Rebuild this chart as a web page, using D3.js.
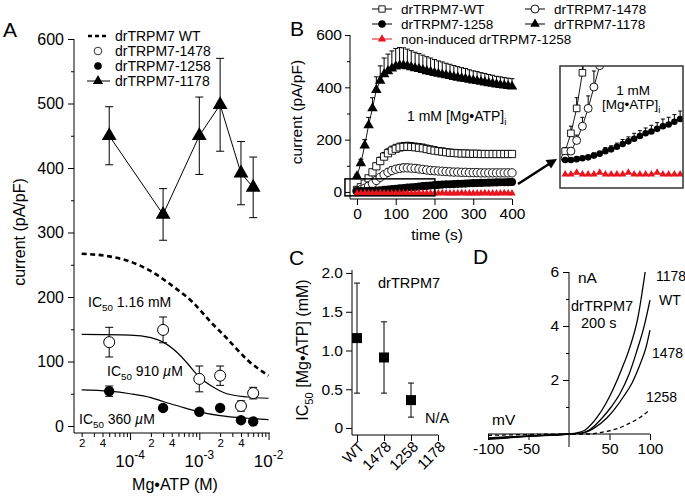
<!DOCTYPE html>
<html><head><meta charset="utf-8">
<script src="https://cdn.jsdelivr.net/npm/d3@7"></script>
<style>
body{margin:0;background:#fff;}
svg{display:block;font-family:"Liberation Sans",Arial,Helvetica,sans-serif;}
</style></head><body>
<svg id="c" width="685" height="497"></svg>
<script>
// ---------------- Panel A data ----------------
const concA = [5e-5, 3e-4, 1e-3, 2e-3, 4e-3, 6e-3];
const a1178 = [450, 328, 450, 498, 392, 370];
const a1178Err = [45, 40, 60, 72, 49, 47];
const a1478 = [130, 149, 73, 78, 31, 51];
const a1478Err = [23, 20, 20, 15, 8, 9];
const a1258 = [54, 28, 22, 28, 9, 7];
const a1258Err = [8, 0, 0, 0, 0, 0];
const fitWTConc = [2e-5, 5e-5, 1e-4, 2e-4, 4e-4, 8e-4, 1.5e-3, 2.5e-3, 5e-3, 1e-2];
const fitWTVal  = [267, 263, 255, 240, 218, 192, 160, 136, 102, 78];
const fit1478Conc = [2e-5, 1e-4, 2e-4, 3e-4, 5e-4, 7e-4, 1e-3, 1.5e-3, 2.5e-3, 5e-3, 1e-2];
const fit1478Val  = [142, 141, 137, 130, 112, 95, 76, 62, 50, 45, 43];
const fit1258Conc = [2e-5, 5e-5, 1e-4, 2e-4, 3e-4, 5e-4, 1e-3, 2e-3, 5e-3, 1e-2];
const fit1258Val  = [56, 54, 50, 44, 38, 31, 22, 16, 12, 10];
const yTicksA = [0, 100, 200, 300, 400, 500, 600];
const yMinorA = [50, 150, 250, 350, 450, 550];
const xMajorA = [1e-4, 1e-3, 1e-2];
const xMinorA = [2e-5,3e-5,4e-5,5e-5,6e-5,7e-5,8e-5,9e-5,2e-4,3e-4,4e-4,5e-4,6e-4,7e-4,8e-4,9e-4,2e-3,3e-3,4e-3,5e-3,6e-3,7e-3,8e-3,9e-3];
const legendA = ["drTRPM7 WT", "drTRPM7-1478", "drTRPM7-1258", "drTRPM7-1178"];

// ---------------- Panel B data ----------------
const timesB = [0,10,20,30,40,50,60,70,80,90,100,110,120,130,140,150,160,170,180,190,200,210,220,230,240,250,260,270,280,290,300,310,320,330,340,350,360,370,380,390,400];
const bWT = [8,18,32,52,75,98,118,135,148,158,165,170,172,173,172,171,169,167,164,161,158,156,154,152,150,149,148,147,147,146,146,146,145,145,145,145,145,145,145,145,145];
const bWTErr = [2,4,6,9,11,13,15,16,17,17,17,17,17,17,17,16,16,16,15,15,15,14,14,13,13,12,12,12,11,11,11,10,10,10,10,9,9,9,9,9,9];
const b1478 = [4,8,14,22,32,44,56,66,75,82,87,90,92,92,91,90,88,86,84,82,81,80,79,78,77,76,76,75,75,74,74,74,73,73,73,73,73,73,73,73,73];
const b1478Err = [1,2,3,5,7,9,11,12,13,14,14,14,14,14,13,13,12,12,12,11,11,11,10,10,10,10,9,9,9,9,9,9,9,8,8,8,8,8,8,8,8];
const b1178 = [60,110,178,255,320,390,425,450,462,472,480,484,484,481,477,473,470,466,462,459,455,452,449,446,443,440,437,434,432,429,426,424,421,419,416,414,411,409,407,405,403];
const b1178Err = [8,15,22,30,40,50,57,62,65,67,68,68,67,65,63,61,59,57,55,53,51,49,48,46,45,43,42,41,40,38,37,36,35,34,33,32,31,31,30,30,30];
const b1258 = [3,3,3.5,4,4.5,5.5,6.5,8,9,10.5,12,13.5,15,16.5,18,19,20.5,22,23,24.5,26,27,28,29,29.5,30,31,31.5,32,33,33.5,34,34.5,35,35.5,36,36.5,37,37,37.5,38];
const b1258Err = [1,1,1,1,1,1.5,1.5,2,2,2,2.5,2.5,3,3,3,3.5,3.5,4,4,4,4.5,4.5,4.5,5,5,5,5,5,5.5,5.5,5.5,5.5,5.5,6,6,6,6,6,6,6,6];
const bNonInd = [-5,-5,-4,-5,-5,-5,-4,-5,-5,-5,-5,-4,-5,-5,-5,-5,-4,-5,-5,-5,-5,-5,-4,-5,-5,-5,-5,-4,-5,-5,-5,-5,-5,-4,-5,-5,-5,-5,-4,-5,-5];
const yTicksB = [0, 200, 400, 600];
const yMinorB = [100, 300, 500];
const xTicksB = [0, 100, 200, 300, 400];
const insetT = [-31, 201];
const insetV = [-15, 50];

// ---------------- Panel C data ----------------
const catsC = ["WT", "1478", "1258", "1178"];
const ic50 = [1.16, 0.91, 0.36, null];
const ic50Err = [0.71, 0.46, 0.22, null];
const yTicksC = [0, 0.5, 1.0, 1.5, 2.0];

// ---------------- Panel D data ----------------
const ivWT = [[-100,-0.17],[-50,-0.08],[0,0],[14,0.03],[25,0.15],[42,0.63],[52,1.0],[63,1.5],[74,2.2],[84,3.1],[92,3.9],[100,4.96]];
const iv1178 = [[-100,-0.2],[-50,-0.09],[0,0],[10,0.04],[20,0.15],[35,0.63],[45,1.1],[54,1.63],[65,2.4],[75,3.2],[85,4.3],[94,6.0]];
const iv1478 = [[-100,-0.14],[-50,-0.07],[0,0],[17,0.04],[30,0.2],[47,0.6],[57,0.95],[67,1.37],[78,1.9],[88,2.6],[95,3.2],[100,3.85]];
const iv1258 = [[-100,-0.05],[-50,-0.02],[0,0],[26,0.0],[40,0.06],[54,0.15],[65,0.26],[75,0.4],[88,0.62],[98,0.85]];
const xTicksD = [-100, -50, 50, 100];
const yTicksD = [2, 4, 6];
const yMinorD = [1, 3, 5];

// ---------------- helpers ----------------
const svg = d3.select("#c");
svg.append("rect").attr("width", 685).attr("height", 497).attr("fill", "#fff");
const FONT = '"Liberation Sans", Arial, Helvetica, sans-serif';
const plainFmt = d => String(d);

function label(g, x, y, parts, size, anchor, rotate) {
  const t = g.append("text").attr("x", x).attr("y", y).attr("font-size", size)
    .attr("text-anchor", anchor || "start").attr("fill", "#000");
  if (rotate != null) t.attr("transform", `rotate(${rotate},${x},${y})`);
  let shift = 0;
  parts.forEach(p => {
    if (typeof p === "string") p = {t: p};
    const sp = t.append("tspan").text(p.t);
    const target = p.sub ? size * 0.3 : p.sup ? -size * 0.45 : 0;
    if (target !== shift) { sp.attr("dy", target - shift); shift = target; }
    if (p.sub || p.sup) sp.attr("font-size", size * 0.7);
    if (p.it) sp.attr("font-style", "italic");
  });
  return t;
}
function styleAxis(g, size) {
  g.attr("font-family", FONT).attr("font-size", size);
  g.selectAll("line").attr("stroke", "#000").attr("stroke-width", 1);
  g.selectAll("text").attr("fill", "#000");
  g.select(".domain").remove();
}
function vline(g, x, y1, y2) { g.append("line").attr("x1", x).attr("x2", x).attr("y1", y1).attr("y2", y2).attr("stroke", "#000").attr("stroke-width", 1); }
function hline(g, y, x1, x2) { g.append("line").attr("x1", x1).attr("x2", x2).attr("y1", y).attr("y2", y).attr("stroke", "#000").attr("stroke-width", 1); }
function errBars(g, xs, ys, es, xf, yf, cap, up, down) {
  xs.forEach((xv, i) => {
    if (ys[i] == null || !es[i]) return;
    const x = xf(xv), y0 = yf(ys[i] - (down ? es[i] : 0)), y1 = yf(ys[i] + (up ? es[i] : 0));
    vline(g, x, y0, y1);
    if (up) hline(g, y1, x - cap / 2, x + cap / 2);
    if (down) hline(g, y0, x - cap / 2, x + cap / 2);
  });
}

// ================= Panel A =================
const gA = svg.append("g");
const xA = d3.scaleLog().domain([1.55e-5, 1.05e-2]).range([74, 270]);
const yA = d3.scaleLinear().domain([0, 600]).range([426, 39]);
const axAy = 433;
vline(gA, 74, yA(600), axAy);
hline(gA, axAy, 74, 270);
gA.append("g").attr("transform", "translate(74,0)")
  .call(d3.axisLeft(yA).tickValues(yTicksA).tickSize(6).tickPadding(4).tickFormat(plainFmt)).call(g => styleAxis(g, 16));
gA.append("g").attr("transform", "translate(74,0)")
  .call(d3.axisLeft(yA).tickValues(yMinorA).tickSize(3).tickFormat("")).call(g => styleAxis(g, 10));
gA.append("g").attr("transform", `translate(0,${axAy})`)
  .call(d3.axisBottom(xA).tickValues(xMajorA).tickSize(7).tickFormat("")).call(g => styleAxis(g, 10));
gA.append("g").attr("transform", `translate(0,${axAy})`)
  .call(d3.axisBottom(xA).tickValues(xMinorA).tickSize(4).tickPadding(2)
    .tickFormat(d => { const m = Math.round(d / Math.pow(10, Math.floor(Math.log10(d) + 1e-9))); return (m === 2 || m === 4) ? m : ""; }))
  .call(g => styleAxis(g, 11.5));
xMajorA.forEach(v => {
  label(gA, xA(v), 467, ["10", {t: "-" + Math.round(-Math.log10(v)), sup: true}], 17, "middle");
});
label(gA, 175, 490, ["Mg•ATP (M)"], 16, "middle");
label(gA, 25, 232, ["current (pA/pF)"], 16, "middle", -90);
label(gA, 3, 37, ["A"], 21);

const lineA = d3.line().x(d => xA(d[0])).y(d => yA(d[1])).curve(d3.curveMonotoneX);
gA.append("path").attr("d", lineA(fitWTConc.map((c, i) => [c, fitWTVal[i]])))
  .attr("fill", "none").attr("stroke", "#000").attr("stroke-width", 2.6).attr("stroke-dasharray", "5,3.5");
gA.append("path").attr("d", lineA(fit1478Conc.map((c, i) => [c, fit1478Val[i]])))
  .attr("fill", "none").attr("stroke", "#000").attr("stroke-width", 1.2);
gA.append("path").attr("d", lineA(fit1258Conc.map((c, i) => [c, fit1258Val[i]])))
  .attr("fill", "none").attr("stroke", "#000").attr("stroke-width", 1.2);
// 1178
errBars(gA, concA, a1178, a1178Err, xA, yA, 8, true, true);
gA.append("path").attr("d", d3.line().x((d, i) => xA(concA[i])).y(d => yA(d))(a1178))
  .attr("fill", "none").attr("stroke", "#000").attr("stroke-width", 1);
gA.selectAll(".t1178").data(a1178).join("path")
  .attr("d", d3.symbol(d3.symbolTriangle, 95)())
  .attr("transform", (d, i) => `translate(${xA(concA[i])},${yA(d)})`).attr("fill", "#000");
// 1478
errBars(gA, concA, a1478, a1478Err, xA, yA, 8, true, true);
gA.selectAll(".c1478").data(a1478).join("circle")
  .attr("cx", (d, i) => xA(concA[i])).attr("cy", d => yA(d)).attr("r", 5.5)
  .attr("fill", "#fff").attr("stroke", "#000").attr("stroke-width", 1);
// 1258
errBars(gA, concA, a1258, a1258Err, xA, yA, 8, true, true);
gA.selectAll(".c1258").data(a1258).join("circle")
  .attr("cx", (d, i) => xA(concA[i])).attr("cy", d => yA(d)).attr("r", 5.2).attr("fill", "#000");
// IC50 labels
label(gA, 88, 307, ["IC", {t: "50", sub: true}, " 1.16 mM"], 14);
label(gA, 107, 376, ["IC", {t: "50", sub: true}, " 910 ", {t: "µ", it: true}, "M"], 14);
label(gA, 79, 424, ["IC", {t: "50", sub: true}, " 360 ", {t: "µ", it: true}, "M"], 14);
// legend A
const legAy = [36, 51, 66, 81];
gA.append("line").attr("x1", 88).attr("x2", 108).attr("y1", legAy[0]).attr("y2", legAy[0])
  .attr("stroke", "#000").attr("stroke-width", 2.4).attr("stroke-dasharray", "4,3");
gA.append("circle").attr("cx", 98).attr("cy", legAy[1]).attr("r", 3.8).attr("fill", "#fff").attr("stroke", "#000").attr("stroke-width", 0.8);
gA.append("circle").attr("cx", 98).attr("cy", legAy[2]).attr("r", 3.8).attr("fill", "#000");
hline(gA, legAy[3], 87, 110);
gA.append("path").attr("d", d3.symbol(d3.symbolTriangle, 45)()).attr("transform", `translate(98,${legAy[3]})`);
legendA.forEach((s, i) => label(gA, 115, legAy[i] + 5, [s], 14));

// ================= Panel B =================
const gB = svg.append("g");
const xB = d3.scaleLinear().domain([-18, 400]).range([350, 512]);
const yB = d3.scaleLinear().domain([-27, 600]).range([199, 35]);
vline(gB, 350, yB(600), 199);
hline(gB, 199, 350, 512);
gB.append("g").attr("transform", "translate(350,0)")
  .call(d3.axisLeft(yB).tickValues(yTicksB).tickSize(5).tickPadding(3).tickFormat(plainFmt)).call(g => styleAxis(g, 15.5));
gB.append("g").attr("transform", "translate(350,0)")
  .call(d3.axisLeft(yB).tickValues(yMinorB).tickSize(3).tickFormat("")).call(g => styleAxis(g, 10));
gB.append("g").attr("transform", "translate(0,199)")
  .call(d3.axisBottom(xB).tickValues(xTicksB).tickSize(6).tickPadding(3).tickFormat(plainFmt)).call(g => styleAxis(g, 15.5));
label(gB, 437, 240, ["time (s)"], 15.5, "middle");
label(gB, 302, 112, ["current (pA/pF)"], 15.5, "middle", -90);
label(gB, 290, 36, ["B"], 21);
label(gB, 407, 121, ["1 mM [Mg•ATP]", {t: "i", sub: true}], 14);

function drawSeries(g, xs, ys, es, xf, yf, opt) {
  if (es) errBars(g, xs, ys, es, xf, yf, opt.cap, true, false);
  g.append("path").attr("d", d3.line().x((d, i) => xf(xs[i])).y(d => yf(d))(ys))
    .attr("fill", "none").attr("stroke", opt.color || "#000").attr("stroke-width", opt.lw || 0.9);
  g.append("g").selectAll("path").data(ys).join("path")
    .attr("transform", (d, i) => `translate(${xf(xs[i])},${yf(d)})`)
    .attr("d", d3.symbol(opt.sym, opt.size)())
    .attr("fill", opt.fill).attr("stroke", opt.stroke || "none").attr("stroke-width", opt.sw || 0.9);
}
drawSeries(gB, timesB, bWT, bWTErr, xB, yB, {cap: 5, sym: d3.symbolSquare, size: 52, fill: "#fff", stroke: "#000"});
drawSeries(gB, timesB, b1478, b1478Err, xB, yB, {cap: 5, sym: d3.symbolCircle, size: 55, fill: "#fff", stroke: "#000"});
drawSeries(gB, timesB, b1178, b1178Err, xB, yB, {cap: 5, sym: d3.symbolTriangle, size: 48, fill: "#000"});
drawSeries(gB, timesB, b1258, b1258Err, xB, yB, {cap: 5, sym: d3.symbolCircle, size: 52, fill: "#000"});
drawSeries(gB, timesB, bNonInd, null, xB, yB, {sym: d3.symbolTriangle, size: 24, fill: "#e8141e", color: "#e8141e"});
// zoom rectangle
gB.append("rect").attr("x", xB(insetT[0])).attr("y", yB(insetV[1]))
  .attr("width", xB(insetT[1]) - xB(insetT[0])).attr("height", yB(insetV[0]) - yB(insetV[1]))
  .attr("fill", "none").attr("stroke", "#000").attr("stroke-width", 1.5);
// arrow
gB.append("line").attr("x1", 518).attr("y1", 184).attr("x2", 549).attr("y2", 164).attr("stroke", "#000").attr("stroke-width", 2.5);
gB.append("path").attr("d", "M557,159 L551,168.5 L545.5,160 Z").attr("fill", "#000");
// legend B
const legB = [
  {x: 382, y: 9, sym: d3.symbolSquare, size: 40, fill: "#fff", stroke: "#000", text: "drTRPM7-WT", color: "#000"},
  {x: 535, y: 9, sym: d3.symbolCircle, size: 50, fill: "#fff", stroke: "#000", text: "drTRPM7-1478", color: "#000"},
  {x: 382, y: 24, sym: d3.symbolCircle, size: 45, fill: "#000", text: "drTRPM7-1258", color: "#000"},
  {x: 535, y: 24, sym: d3.symbolTriangle, size: 40, fill: "#000", text: "drTRPM7-1178", color: "#000"},
  {x: 382, y: 39, sym: d3.symbolTriangle, size: 30, fill: "#e8141e", text: "non-induced drTRPM7-1258", color: "#e8141e"}
];
legB.forEach(l => {
  gB.append("line").attr("x1", l.x - 10).attr("x2", l.x + 10).attr("y1", l.y).attr("y2", l.y).attr("stroke", l.color).attr("stroke-width", 1);
  gB.append("path").attr("d", d3.symbol(l.sym, l.size)()).attr("transform", `translate(${l.x},${l.y})`)
    .attr("fill", l.fill).attr("stroke", l.stroke || "none").attr("stroke-width", 0.9);
  label(gB, l.x + 19, l.y + 5, [l.text], 13.5);
});

// inset
const gI = svg.append("g");
const xI = d3.scaleLinear().domain([-9, 205]).range([560, 683]);
const yI = d3.scaleLinear().domain([-12.7, 55.8]).range([188, 66]);
svg.append("defs").append("clipPath").attr("id", "clipI").append("rect")
  .attr("x", 560).attr("y", 66).attr("width", 123).attr("height", 122);
const gIc = gI.append("g").attr("clip-path", "url(#clipI)");
const nI = 21;
const tI = timesB.slice(0, nI);
drawSeries(gIc, tI, bWT.slice(0, nI), bWTErr.slice(0, nI), xI, yI, {cap: 4, sym: d3.symbolSquare, size: 44, fill: "#fff", stroke: "#000"});
drawSeries(gIc, tI, b1478.slice(0, nI), b1478Err.slice(0, nI), xI, yI, {cap: 4, sym: d3.symbolCircle, size: 50, fill: "#fff", stroke: "#000"});
drawSeries(gIc, tI, b1258.slice(0, nI), b1258Err.slice(0, nI), xI, yI, {cap: 4, sym: d3.symbolCircle, size: 34, fill: "#000"});
drawSeries(gIc, tI, bNonInd.slice(0, nI), null, xI, yI, {sym: d3.symbolTriangle, size: 24, fill: "#e8141e", color: "#e8141e"});
gI.append("rect").attr("x", 560).attr("y", 66).attr("width", 123).attr("height", 122)
  .attr("fill", "none").attr("stroke", "#333").attr("stroke-width", 1.5);
label(gI, 633, 95, ["1 mM"], 13.5, "middle");
label(gI, 602, 109, ["[Mg•ATP]", {t: "i", sub: true}], 13.5);

// ================= Panel C =================
const gC = svg.append("g");
const xC = d3.scalePoint().domain(catsC).range([357, 438]);
const yC = d3.scaleLinear().domain([0, 2]).range([428, 273]);
vline(gC, 352, 270, 435);
hline(gC, 435, 352, 438);
gC.append("g").attr("transform", "translate(352,0)")
  .call(d3.axisLeft(yC).tickValues(yTicksC).tickSize(6).tickPadding(3).tickFormat(d => d === 0 ? "0" : d3.format(".1f")(d)))
  .call(g => styleAxis(g, 15.5));
const axC = gC.append("g").attr("transform", "translate(0,435)")
  .call(d3.axisBottom(xC).tickSize(6).tickPadding(2)).call(g => styleAxis(g, 15));
axC.selectAll("text").attr("text-anchor", "end").attr("dy", "0.35em")
  .attr("transform", "translate(4,9) rotate(-45)").attr("y", 0).attr("x", 0);
catsC.forEach((c, i) => {
  if (ic50[i] == null) return;
  const x = xC(c);
  const lo = yC(ic50[i] - ic50Err[i]), hi = yC(ic50[i] + ic50Err[i]);
  vline(gC, x, lo, hi); hline(gC, lo, x - 3, x + 3); hline(gC, hi, x - 3, x + 3);
  gC.append("rect").attr("x", x - 5).attr("y", yC(ic50[i]) - 5).attr("width", 10).attr("height", 10).attr("fill", "#000");
});
label(gC, 308, 350, ["IC", {t: "50", sub: true}, " [Mg•ATP] (mM)"], 16, "middle", -90);
label(gC, 378, 288, ["drTRPM7"], 14.5);
label(gC, 425, 423, ["N/A"], 14.5);
label(gC, 289, 265, ["C"], 21);

// ================= Panel D =================
const gD = svg.append("g");
const xD = d3.scaleLinear().domain([-100, 100]).range([488, 650]);
const yD = d3.scaleLinear().domain([0, 6]).range([434, 272]);
vline(gD, xD(0), yD(6), 447);
hline(gD, yD(0), 488, 650);
gD.append("g").attr("transform", `translate(${xD(0)},0)`)
  .call(d3.axisLeft(yD).tickValues(yTicksD).tickSize(6).tickPadding(4).tickFormat(plainFmt)).call(g => styleAxis(g, 15.5));
gD.append("g").attr("transform", `translate(${xD(0)},0)`)
  .call(d3.axisLeft(yD).tickValues(yMinorD).tickSize(3).tickFormat("")).call(g => styleAxis(g, 10));
gD.append("g").attr("transform", `translate(0,${yD(0)})`)
  .call(d3.axisBottom(xD).tickValues(xTicksD).tickSize(6).tickPadding(3).tickFormat(plainFmt)).call(g => styleAxis(g, 15.5));
const lineD = d3.line().x(d => xD(d[0])).y(d => yD(d[1])).curve(d3.curveMonotoneX);
[[iv1178, null], [ivWT, null], [iv1478, null], [iv1258, "4,3"]].forEach(([s, dash]) => {
  const p = gD.append("path").attr("d", lineD(s)).attr("fill", "none").attr("stroke", "#000").attr("stroke-width", 1.3);
  if (dash) p.attr("stroke-dasharray", dash);
});
label(gD, 492, 425, ["mV"], 15.5);
label(gD, 578, 283, ["nA"], 15.5);
label(gD, 571, 311, ["drTRPM7"], 14.5);
label(gD, 581, 328, ["200 s"], 14.5);
label(gD, 656, 281, ["1178"], 14);
label(gD, 659, 305, ["WT"], 14);
label(gD, 652, 358, ["1478"], 14);
label(gD, 646, 402, ["1258"], 14);
label(gD, 473, 264, ["D"], 21);
</script>
</body></html>
